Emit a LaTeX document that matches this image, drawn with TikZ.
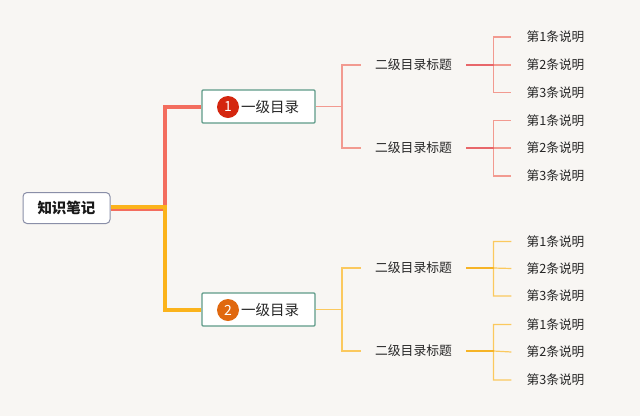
\documentclass[tikz,border=0pt]{standalone}
\usepackage{fontspec}
\setmainfont{Noto Sans CJK SC}
\definecolor{bg}{HTML}{F8F6F3}
\definecolor{redmain}{HTML}{F36D5E}
\definecolor{redmid}{HTML}{E8676A}
\definecolor{redthin}{HTML}{F29A90}
\definecolor{ormain}{HTML}{FBB31B}
\definecolor{ormid}{HTML}{F6B426}
\definecolor{orthin}{HTML}{FBC95E}
\definecolor{boxgreen}{HTML}{5E9A88}
\definecolor{rootborder}{HTML}{8A8FA8}
\definecolor{circA}{HTML}{D4260F}
\definecolor{circB}{HTML}{E0680F}
\definecolor{txt}{HTML}{262626}
\tikzset{
  rootbox/.style={draw=rootborder, line width=1pt, fill=white, rounded corners=4pt,
    minimum width=87pt, minimum height=31pt, inner sep=0pt,
    font=\fontsize{14.5}{16}\selectfont\bfseries, text=black!90},
  lvlbox/.style={draw=boxgreen, line width=1.2pt, fill=white, rounded corners=1pt,
    minimum width=113pt, minimum height=33pt, inner sep=0pt},
  lvltext/.style={font=\fontsize{14.5}{16}\selectfont, text=txt, inner sep=0pt},
  numcirc/.style={circle, minimum size=22pt, inner sep=0pt, text=white,
    font=\fontsize{14}{14}\selectfont},
  midtext/.style={font=\fontsize{12.8}{14}\selectfont, text=txt, inner xsep=14pt, inner ysep=2pt},
  leaftext/.style={font=\fontsize{12.7}{14}\selectfont, text=txt, inner xsep=15pt, inner ysep=2pt},
  thinline/.style={line width=1.2pt},
}
\begin{document}
\begin{tikzpicture}[x=1pt, y=-1pt]
\fill[bg] (0,0) rectangle (640,416);
\useasboundingbox (0,0) rectangle (640,416);

% root
\node[rootbox] (root) at (66.5,208) {知识笔记};
% level-1 boxes
\node[lvlbox] (b1) at (258.5,106.5) {};
\node[numcirc, fill=circA] (c1) at (228,107) {1};
\node[lvltext, anchor=west] (t1) at (241,106.5) {一级目录};
\node[lvlbox] (b2) at (258.5,309.5) {};
\node[numcirc, fill=circB] (c2) at (228,310) {2};
\node[lvltext, anchor=west] (t2) at (241,309.5) {一级目录};

% main connectors
\coordinate (j) at (165,208);
\draw[redmain, line width=4pt] ([yshift=-1pt]root.east) -- ([yshift=-1pt]j) |- (b1.west);
\draw[ormain, line width=4pt] ([yshift=1.5pt]root.east) -- ([yshift=1.5pt]j) -- (j) |- (b2.west);

% ===== branch 1 (red) =====
\coordinate (s1) at (342,106.5);
\node[midtext] (m11) at (413.5,65) {二级目录标题};
\node[midtext] (m12) at (413.5,148) {二级目录标题};
\draw[redthin, thinline] (b1.east) -- (s1) (s1) |- (m11.west) (s1) |- (m12.west);

\node[leaftext] (l111) at (555.5,37) {第1条说明};
\node[leaftext] (l112) at (555.5,65) {第2条说明};
\node[leaftext] (l113) at (555.5,92.5) {第3条说明};
\coordinate (k11) at (493.5,65);
\draw[redthin, thinline] (k11) |- (l111.west) (k11) -- (l112.west) (k11) |- (l113.west);
\draw[redmid, line width=2pt] (m11.east) -- (k11);

\node[leaftext] (l121) at (555.5,120.5) {第1条说明};
\node[leaftext] (l122) at (555.5,148) {第2条说明};
\node[leaftext] (l123) at (555.5,176) {第3条说明};
\coordinate (k12) at (493.5,148);
\draw[redthin, thinline] (k12) |- (l121.west) (k12) -- (l122.west) (k12) |- (l123.west);
\draw[redmid, line width=2pt] (m12.east) -- (k12);

% ===== branch 2 (orange) =====
\coordinate (s2) at (342,309.5);
\node[midtext] (m21) at (413.5,268) {二级目录标题};
\node[midtext] (m22) at (413.5,351) {二级目录标题};
\draw[orthin, thinline] (b2.east) -- (s2) (s2) |- (m21.west) (s2) |- (m22.west);

\node[leaftext] (l211) at (555.5,241.5) {第1条说明};
\node[leaftext] (l212) at (555.5,268.5) {第2条说明};
\node[leaftext] (l213) at (555.5,296) {第3条说明};
\coordinate (k21) at (493.5,268);
\draw[orthin, thinline] (k21) |- (l211.west) (k21) -- (l212.west) (k21) |- (l213.west);
\draw[ormid, line width=2pt] (m21.east) -- (k21);

\node[leaftext] (l221) at (555.5,324.5) {第1条说明};
\node[leaftext] (l222) at (555.5,352) {第2条说明};
\node[leaftext] (l223) at (555.5,380) {第3条说明};
\coordinate (k22) at (493.5,351);
\draw[orthin, thinline] (k22) |- (l221.west) (k22) -- (l222.west) (k22) |- (l223.west);
\draw[ormid, line width=2pt] (m22.east) -- (k22);
\end{tikzpicture}
\end{document}
